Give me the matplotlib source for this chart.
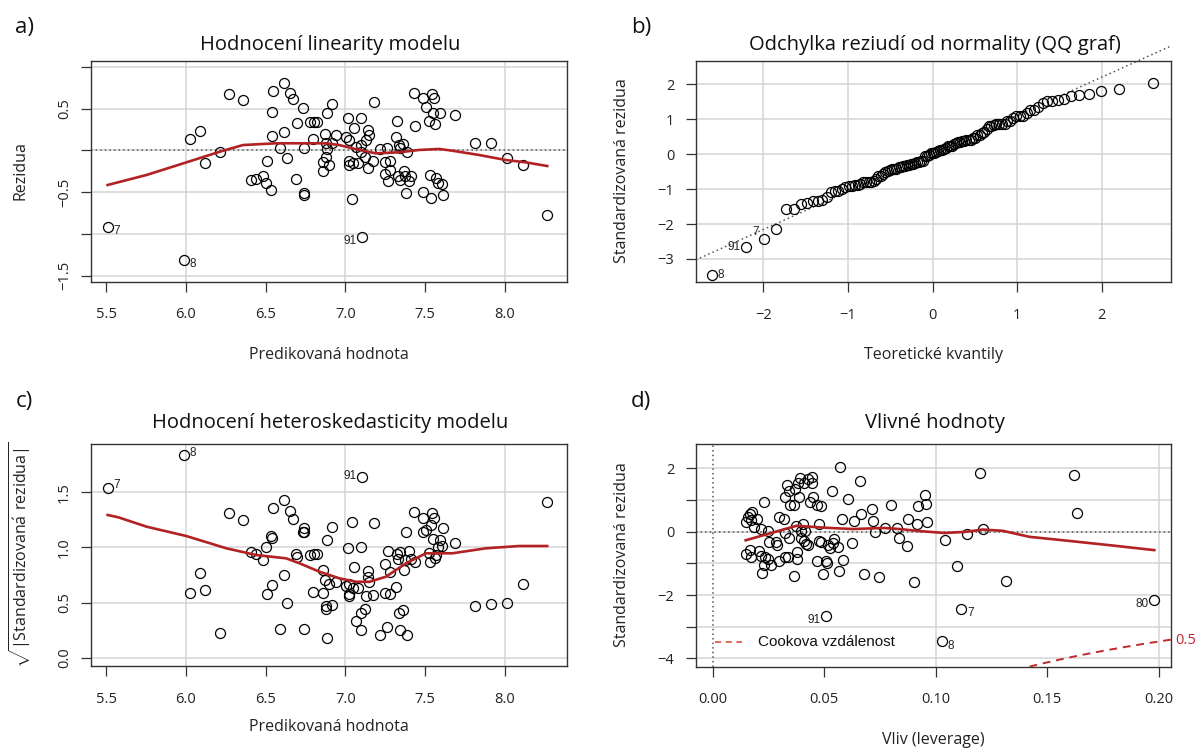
"""Diagnostic plots of a linear model

Four panels: residuals vs fitted values, normal QQ plot of the
standardized residuals, scale-location plot and residuals vs leverage.
"""
from statistics import NormalDist

import numpy as np
import matplotlib
matplotlib.use("Agg")
import matplotlib.pyplot as plt

W, H = 1197, 749
FONT = "Open Sans"
LABEL_FONT = "Liberation Sans"
RED = "#b22222"
GRID = "#d4d4d4"
DOT = "#555555"

# Fitted values and raw residuals
FITTED = [5.51, 5.99, 6.027, 6.09, 6.12, 6.217, 6.273, 6.36, 6.41, 6.44,
          6.486, 6.50, 6.533, 6.51, 6.546, 6.539, 6.539, 6.59, 6.615, 6.617,
          6.636, 6.65, 6.67, 6.69, 6.696, 6.733, 6.74, 6.74, 6.74, 6.779,
          6.796, 6.80, 6.82, 6.857, 6.857, 6.873, 6.877, 6.883, 6.879, 6.885,
          6.914, 6.942, 6.917, 6.896, 7.014, 7.10, 7.056, 7.139, 7.15, 7.177,
          7.129, 7.004, 7.021, 7.067, 7.098, 7.10, 7.125, 7.025, 7.021, 7.046,
          7.077, 7.139, 7.171, 7.039, 7.106, 7.219, 7.261, 7.321, 7.317,
          7.3375, 7.358, 7.342, 7.383, 7.25, 7.279, 7.281, 7.248, 7.267,
          7.331, 7.344, 7.369, 7.375, 7.411, 7.396, 7.379, 7.429, 7.4375,
          7.4875, 7.502, 7.542, 7.556, 7.546, 7.592, 7.525, 7.5625, 7.6875,
          7.531, 7.567, 7.577, 7.604, 7.4875, 7.539, 7.614, 7.8125, 7.9125,
          8.014, 8.114, 8.264]
RESID = [-0.92, -1.31, 0.135, 0.227, -0.148, -0.02, 0.673, 0.605, -0.355,
         -0.343, -0.304, -0.391, -0.471, -0.128, 0.713, 0.458, 0.167, 0.027,
         0.80, 0.219, -0.096, 0.689, 0.617, -0.343, 0.323, 0.506, 0.027,
         -0.507, -0.535, 0.335, 0.139, 0.342, 0.342, -0.136, -0.248, 0.195,
         -0.077, 0.443, 0.084, 0.012, 0.55, 0.183, 0.09, -0.175, 0.383, 0.39,
         0.263, 0.243, 0.183, 0.581, 0.123, 0.163, 0.123, 0.043, 0.063,
         -0.024, -0.077, -0.128, -0.176, -0.156, -0.156, -0.208, -0.124,
         -0.586, -1.04, 0.016, 0.03, 0.347, 0.16, 0.063, 0.072, 0.024, -0.016,
         -0.136, -0.128, -0.236, -0.283, -0.367, -0.311, -0.355, -0.248,
         -0.304, -0.311, -0.363, -0.507, 0.682, 0.294, 0.629, 0.522, 0.67,
         0.622, 0.45, 0.443, 0.35, 0.318, 0.422, -0.295, -0.335, -0.395,
         -0.403, -0.502, -0.567, -0.535, 0.084, 0.091, -0.096, -0.176, -0.774]
RESID_SCALE = 0.39
FITTED_IDS = {7: (5.51, -0.92), 8: (5.99, -1.31), 91: (7.106, -1.04)}

# Leverage and standardized residuals
LEVERAGE = [0.0148, 0.016, 0.0167, 0.0178, 0.017, 0.0185, 0.020, 0.0217,
            0.0231, 0.0248, 0.0148, 0.0167, 0.0173, 0.0209, 0.0217, 0.0236,
            0.0249, 0.023, 0.026, 0.0221, 0.0251, 0.0283, 0.029, 0.0299,
            0.0321, 0.0299, 0.0326, 0.0339, 0.0326, 0.0341, 0.0332, 0.0344,
            0.0326, 0.0347, 0.0365, 0.0368, 0.0384, 0.0391, 0.0409, 0.0387,
            0.0429, 0.0444, 0.0444, 0.0448, 0.0436, 0.0469, 0.0487, 0.0375,
            0.0405, 0.0396, 0.0415, 0.0397, 0.0409, 0.0418, 0.0429, 0.0377,
            0.0377, 0.0365, 0.0466, 0.0507, 0.0513, 0.0493, 0.0478, 0.0478,
            0.0487, 0.0518, 0.0527, 0.0544, 0.0538, 0.0563, 0.0584, 0.0565,
            0.0507, 0.0535, 0.0571, 0.058, 0.0608, 0.0623, 0.0632, 0.066,
            0.0665, 0.068, 0.0713, 0.0719, 0.0728, 0.0747, 0.0771, 0.0798,
            0.0826, 0.0834, 0.0871, 0.0876, 0.0901, 0.0916, 0.092, 0.0951,
            0.0956, 0.096, 0.104, 0.1028, 0.1094, 0.1115, 0.1142, 0.1197,
            0.1214, 0.1315, 0.1622, 0.1632, 0.1978]
STD_RESID = [0.315, 0.45, 0.56, 0.63, 0.37, 0.14, 0.40, 0.075, 0.95, 0.03,
             -0.71, -0.58, -0.81, -0.62, -0.77, -0.81, -0.85, -1.05, -1.05,
             -1.31, -0.315, -0.315, -0.43, 0.47, 0.40, -0.93, -0.79, -0.79,
             -0.05, -0.19, 1.46, 1.28, 1.10, 0.86, 0.86, 1.36, 1.53, 1.70,
             1.53, 1.10, 1.68, 1.735, 1.55, 1.10, 0.94, 0.86, 0.81, 0.18, 0.24,
             0.03, 0.03, -0.20, -0.29, -0.38, -0.41, -0.63, -0.87, -1.40,
             -0.91, -0.91, -1.0, -1.34, 0.24, -0.28, -0.325, -0.43, -0.52,
             -0.23, -0.365, -0.47, -0.89, -1.24, -2.66, 1.28, 2.05, 0.41, 1.04,
             -0.35, 0.35, 1.59, 0.56, -1.34, 0.73, 0.35, -0.02, -1.42, 0.12,
             0.85, 0.11, -0.21, -0.45, 0.39, -1.58, 0.24, 0.81, 1.17, 0.87,
             0.30, -0.25, -3.46, -1.07, -2.43, -0.06, 1.86, 0.085, -1.56, 1.80,
             0.60, -2.15]
LEVERAGE_IDS = {91: (0.0507, -2.66), 8: (0.1028, -3.46), 7: (0.1115, -2.43),
                80: (0.1978, -2.15)}
N_PARAMS = 6
COOK_LEVEL = 0.5

# Smoothed trend lines
A_CURVE_X = [5.51, 5.754, 6.004, 6.212, 6.358, 6.567, 6.879, 6.96, 7.087,
             7.19, 7.3375, 7.46, 7.587, 7.67, 7.8375, 8.004, 8.129, 8.264]
A_CURVE_Y = [-0.415, -0.295, -0.144, -0.017, 0.063, 0.084, 0.084, 0.063,
             0.004, -0.036, -0.024, 0.004, 0.016, -0.005, -0.056, -0.116,
             -0.144, -0.188]
C_CURVE_X = [5.51, 5.577, 5.754, 6.004, 6.254, 6.442, 6.629, 6.7125, 6.8375,
             6.9625, 7.067, 7.15, 7.254, 7.379, 7.504, 7.67, 7.879, 8.087,
             8.264]
C_CURVE_Y = [1.293, 1.272, 1.187, 1.102, 0.991, 0.93, 0.90, 0.855, 0.779,
             0.719, 0.688, 0.688, 0.734, 0.855, 0.946, 0.946, 0.991, 1.012,
             1.012]
D_CURVE_X = [0.0148, 0.0377, 0.0496, 0.063, 0.0765, 0.084, 0.093, 0.104,
             0.114, 0.121, 0.130, 0.142, 0.160, 0.180, 0.198]
D_CURVE_Y = [-0.27, 0.19, 0.13, 0.085, 0.12, 0.085, 0.02, -0.04, 0.0, 0.07,
             0.03, -0.16, -0.29, -0.44, -0.58]


def fx(px):
    return px / W


def fy(py):
    return 1 - py / H


def make_axes(fig, left, top, right, bottom):
    """Axes placed by its pixel box."""
    ax = fig.add_axes([fx(left), fy(bottom), fx(right - left),
                       (bottom - top) / H])
    for sp in ax.spines.values():
        sp.set_color("#333333")
        sp.set_linewidth(1.0)
    ax.tick_params(length=7.5, width=0.9, color="#333333", labelsize=10.5,
                   labelcolor="#222222")
    ax.tick_params(axis="x", pad=11)
    return ax


def grid(ax, xs, ys):
    for x in xs:
        ax.axvline(x, color=GRID, lw=1.1, zorder=0)
    for y in ys:
        ax.axhline(y, color=GRID, lw=1.1, zorder=0)


def points(ax, x, y):
    ax.plot(x, y, "o", mfc="none", mec="black", ms=7.2, mew=0.9, zorder=3)


def label_ids(ax, ids, offsets):
    for key, (x, y) in ids.items():
        dx, dy, ha = offsets[key]
        ax.annotate(str(key), (x, y), xytext=(dx, dy),
                    textcoords="offset points", ha=ha, va="center",
                    fontsize=8.5, family=LABEL_FONT, color="#222222",
                    annotation_clip=False)


def set_yticks(ax, ticks, labels, rotated):
    ax.set_yticks(ticks)
    if rotated:
        ax.set_yticklabels(labels, rotation=90, va="center")
        ax.tick_params(axis="y", pad=6)
    else:
        ax.set_yticklabels(labels)
        ax.tick_params(axis="y", pad=8)


def main():
    plt.rcParams["font.family"] = [FONT, "DejaVu Sans"]
    plt.rcParams["mathtext.fontset"] = "custom"
    plt.rcParams["mathtext.rm"] = FONT
    fig = plt.figure(figsize=(W / 100, H / 100), dpi=100)

    fitted = np.array(FITTED)
    resid = np.array(RESID)
    lev = np.array(LEVERAGE)
    std = np.array(STD_RESID)

    # a) residuals vs fitted
    ax = make_axes(fig, 90.7, 60.7, 566.7, 281.7)
    grid(ax, [6, 7, 8], np.arange(-1.5, 1.01, 0.5))
    ax.axhline(0, color=DOT, lw=1.1, ls=(0, (1, 2)), zorder=1)
    points(ax, fitted, resid)
    ax.plot(A_CURVE_X, A_CURVE_Y, color=RED, lw=1.9, zorder=4)
    ax.set_xlim(5.404, 8.386)
    ax.set_ylim(-1.572, 1.072)
    ax.set_xticks(np.arange(5.5, 8.01, 0.5))
    set_yticks(ax, np.arange(-1.5, 1.01, 0.5),
               ["\u22121.5", "", "\u22120.5", "", "0.5", ""], True)
    label_ids(ax, FITTED_IDS, {7: (4, -3, "left"), 8: (4, -3, "left"),
                               91: (-4, -3, "right")})

    # b) normal QQ plot
    ax = make_axes(fig, 695.7, 61, 1171, 282.3)
    grid(ax, [-2, -1, 0, 1, 2], [-3, -2, -1, 0, 1, 2])
    n = len(std)
    order = np.argsort(std)
    theo = np.array([NormalDist().inv_cdf((i + 0.5) / n) for i in range(n)])
    points(ax, theo, std[order])
    ax.set_xlim(-2.80, 2.82)
    ax.set_ylim(-3.67, 2.67)
    ax.plot([-2.80, 2.82], [-3.03, 3.10], color=DOT, lw=1.1,
            ls=(0, (1, 2)), zorder=2, clip_on=False)
    ax.set_xticks([-2, -1, 0, 1, 2])
    set_yticks(ax, [-3, -2, -1, 0, 1, 2],
               ["\u22123", "\u22122", "\u22121", "0", "1", "2"], False)
    ranks = {lab: int(np.where(std[order] == val[1])[0][0])
             for lab, val in LEVERAGE_IDS.items() if lab != 80}
    qq_ids = {lab: (theo[r], std[order][r]) for lab, r in ranks.items()}
    label_ids(ax, qq_ids, {8: (4, 0, "left"), 91: (-4, 0, "right"),
                           7: (-3, 5, "right")})

    # c) scale-location
    ax = make_axes(fig, 90.7, 444, 566.7, 666)
    grid(ax, [6, 7, 8], [0, 0.5, 1.0, 1.5])
    root = np.sqrt(np.abs(resid) / RESID_SCALE)
    points(ax, fitted, root)
    ax.plot(C_CURVE_X, C_CURVE_Y, color=RED, lw=1.9, zorder=4)
    ax.set_xlim(5.404, 8.386)
    ax.set_ylim(-0.075, 1.936)
    ax.set_xticks(np.arange(5.5, 8.01, 0.5))
    set_yticks(ax, [0, 0.5, 1.0, 1.5], ["0.0", "0.5", "1.0", "1.5"], True)
    c_ids = {k: (x, np.sqrt(abs(y) / RESID_SCALE))
             for k, (x, y) in FITTED_IDS.items()}
    label_ids(ax, c_ids, {7: (4, 2, "left"), 8: (4, 2, "left"),
                          91: (-4, 1, "right")})

    # d) residuals vs leverage
    ax = make_axes(fig, 695.7, 444, 1171, 666.7)
    grid(ax, [0.10, 0.20], np.arange(-4, 2.1, 1))
    ax.axhline(0, color=DOT, lw=1.1, ls=(0, (1, 2)), zorder=1)
    ax.axvline(0, color=DOT, lw=1.1, ls=(0, (1, 2)), zorder=1)
    points(ax, lev, std)
    ax.plot(D_CURVE_X, D_CURVE_Y, color=RED, lw=1.9, zorder=4)
    hh = np.linspace(0.01, 0.2055, 200)
    cook = np.sqrt(COOK_LEVEL * N_PARAMS * (1 - hh) / hh)
    ax.plot(hh, -cook, color="#c0282a", lw=1.4, ls=(0, (4, 3)), zorder=4)
    ax.plot(hh, cook, color="#c0282a", lw=1.4, ls=(0, (4, 3)), zorder=4)
    ax.set_xlim(-0.0076, 0.2055)
    ax.set_ylim(-4.26, 2.77)
    ax.set_xticks([0, 0.05, 0.10, 0.15, 0.20])
    ax.set_xticklabels(["0.00", "0.05", "0.10", "0.15", "0.20"])
    set_yticks(ax, np.arange(-4, 2.1, 1),
               ["\u22124", "", "\u22122", "", "0", "", "2"], False)
    label_ids(ax, LEVERAGE_IDS, {91: (-4, -3, "right"), 8: (4, -3, "left"),
                                 7: (4, -3, "left"), 80: (-4, -3, "right")})
    ax.plot([0.04, 0.097], [0.113, 0.113], transform=ax.transAxes,
            color="#e03c31", lw=1.1, ls=(0, (4, 3)))
    ax.text(0.131, 0.113, "Cookova vzd\u00e1lenost", transform=ax.transAxes,
            family=LABEL_FONT, fontsize=11, va="center", color="#111111")
    fig.text(fx(1175), fy(640), "0.5", color="#c0282a", fontsize=10.5,
             va="center", ha="left")

    # Titles, axis labels and panel letters
    title_kw = dict(ha="center", va="center", fontsize=14.5, color="#111111")
    fig.text(fx(330), fy(45), "Hodnocen\u00ed linearity modelu", **title_kw)
    fig.text(fx(935), fy(45), "Odchylka reziud\u00ed od normality (QQ graf)",
             **title_kw)
    fig.text(fx(330), fy(423), "Hodnocen\u00ed heteroskedasticity modelu",
             **title_kw)
    fig.text(fx(935), fy(423), "Vlivn\u00e9 hodnoty", **title_kw)

    lab_kw = dict(ha="center", va="center", fontsize=11.5, color="#222222")
    fig.text(fx(328.7), fy(355), "Predikovan\u00e1 hodnota", **lab_kw)
    fig.text(fx(933), fy(355), "Teoretick\u00e9 kvantily", **lab_kw)
    fig.text(fx(328.7), fy(727), "Predikovan\u00e1 hodnota", **lab_kw)
    fig.text(fx(933), fy(740), "Vliv (leverage)", **lab_kw)
    fig.text(fx(20), fy(171), "Rezidua", rotation=90, **lab_kw)
    fig.text(fx(622), fy(171), "Standardizovan\u00e1 rezidua", rotation=90,
             **lab_kw)
    fig.text(fx(20), fy(555),
             r"$\sqrt{|\mathrm{Standardizovan\acute{a}\ rezidua}|}$",
             rotation=90, **lab_kw)
    fig.text(fx(622), fy(555), "Standardizovan\u00e1 rezidua", rotation=90,
             **lab_kw)

    let_kw = dict(ha="center", va="center", fontsize=16, color="#111111")
    for txt, x, y in [("a)", 24, 28), ("b)", 641, 28), ("c)", 24, 401),
                      ("d)", 641, 401)]:
        fig.text(fx(x), fy(y), txt, **let_kw)

    fig.savefig("out.png", dpi=100)
    plt.close(fig)


if __name__ == "__main__":
    main()
